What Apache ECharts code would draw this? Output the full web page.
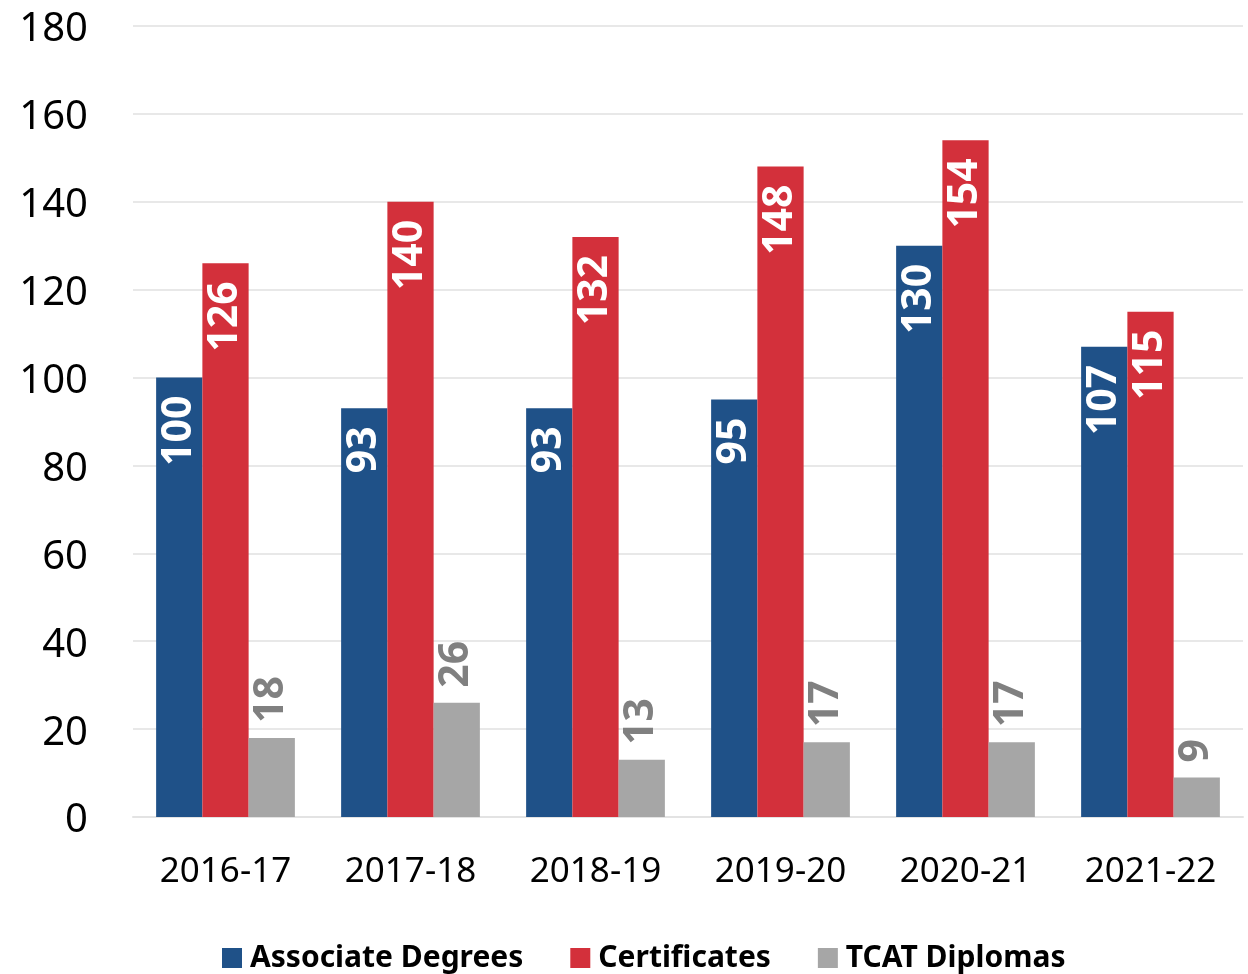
<!DOCTYPE html>
<html><head><meta charset="utf-8">
<script src="https://cdn.jsdelivr.net/npm/echarts@6/dist/echarts.min.js"></script>
<style>html,body{margin:0;padding:0;background:#fff}#c{width:1248px;height:974px}</style>
</head><body><div id="c"></div>
<script>
var categories = ['2016-17','2017-18','2018-19','2019-20','2020-21','2021-22'];
var associate = [100, 93, 93, 95, 130, 107];
var certificates = [126, 140, 132, 148, 154, 115];
var tcat = [18, 26, 13, 17, 17, 9];
var seriesNames = ['Associate Degrees','Certificates','TCAT Diplomas'];
var yTicks = {min: 0, max: 180, interval: 20};

var FONT = '"Noto Sans", "Open Sans", sans-serif';
var chart = echarts.init(document.getElementById('c'), null, {renderer: 'canvas'});
var insideLabel = {
  show: true, position: 'insideTop', rotate: 90, align: 'right', verticalAlign: 'middle',
  distance: 18, color: '#ffffff', fontFamily: FONT, fontWeight: 'bold', fontSize: 41
};
chart.setOption({
  animation: false,
  backgroundColor: '#ffffff',
  grid: {left: 133, right: 5, top: 26, bottom: 157, containLabel: false},
  legend: {
    left: 222, top: 943, padding: 0, itemWidth: 20, itemHeight: 20, itemGap: 47,
    icon: 'rect',
    textStyle: {fontFamily: FONT, fontWeight: 'bold', fontSize: 30, color: '#000', padding: [0,0,0,3]},
    data: seriesNames
  },
  xAxis: {
    type: 'category', data: categories,
    axisLine: {show: true, lineStyle: {color: '#E3E3E3', width: 2}},
    axisTick: {show: false},
    axisLabel: {fontFamily: FONT, fontSize: 35, color: '#000', margin: 38}
  },
  yAxis: {
    type: 'value', min: yTicks.min, max: yTicks.max, interval: yTicks.interval,
    axisLine: {show: false}, axisTick: {show: false},
    splitLine: {lineStyle: {color: '#E8E8E8', width: 2}},
    axisLabel: {
      margin: 45,
      formatter: '{v|{value}}',
      rich: {v: {fontFamily: FONT, fontSize: 40, color: '#000', padding: [8,0,0,0]}}
    }
  },
  series: [
    {name: seriesNames[0], type: 'bar', data: associate, barGap: '0%', barCategoryGap: '25%',
     itemStyle: {color: '#1F5188'}, label: insideLabel},
    {name: seriesNames[1], type: 'bar', data: certificates, barGap: '0%', barCategoryGap: '25%',
     itemStyle: {color: '#D3303B'}, label: insideLabel},
    {name: seriesNames[2], type: 'bar', data: tcat, barGap: '0%', barCategoryGap: '25%',
     itemStyle: {color: '#A6A6A6'},
     label: {show: true, position: 'top', rotate: 90, align: 'left', verticalAlign: 'middle',
       distance: 15, color: '#808080', fontFamily: FONT, fontWeight: 'bold', fontSize: 41}}
  ]
});
</script></body></html>
